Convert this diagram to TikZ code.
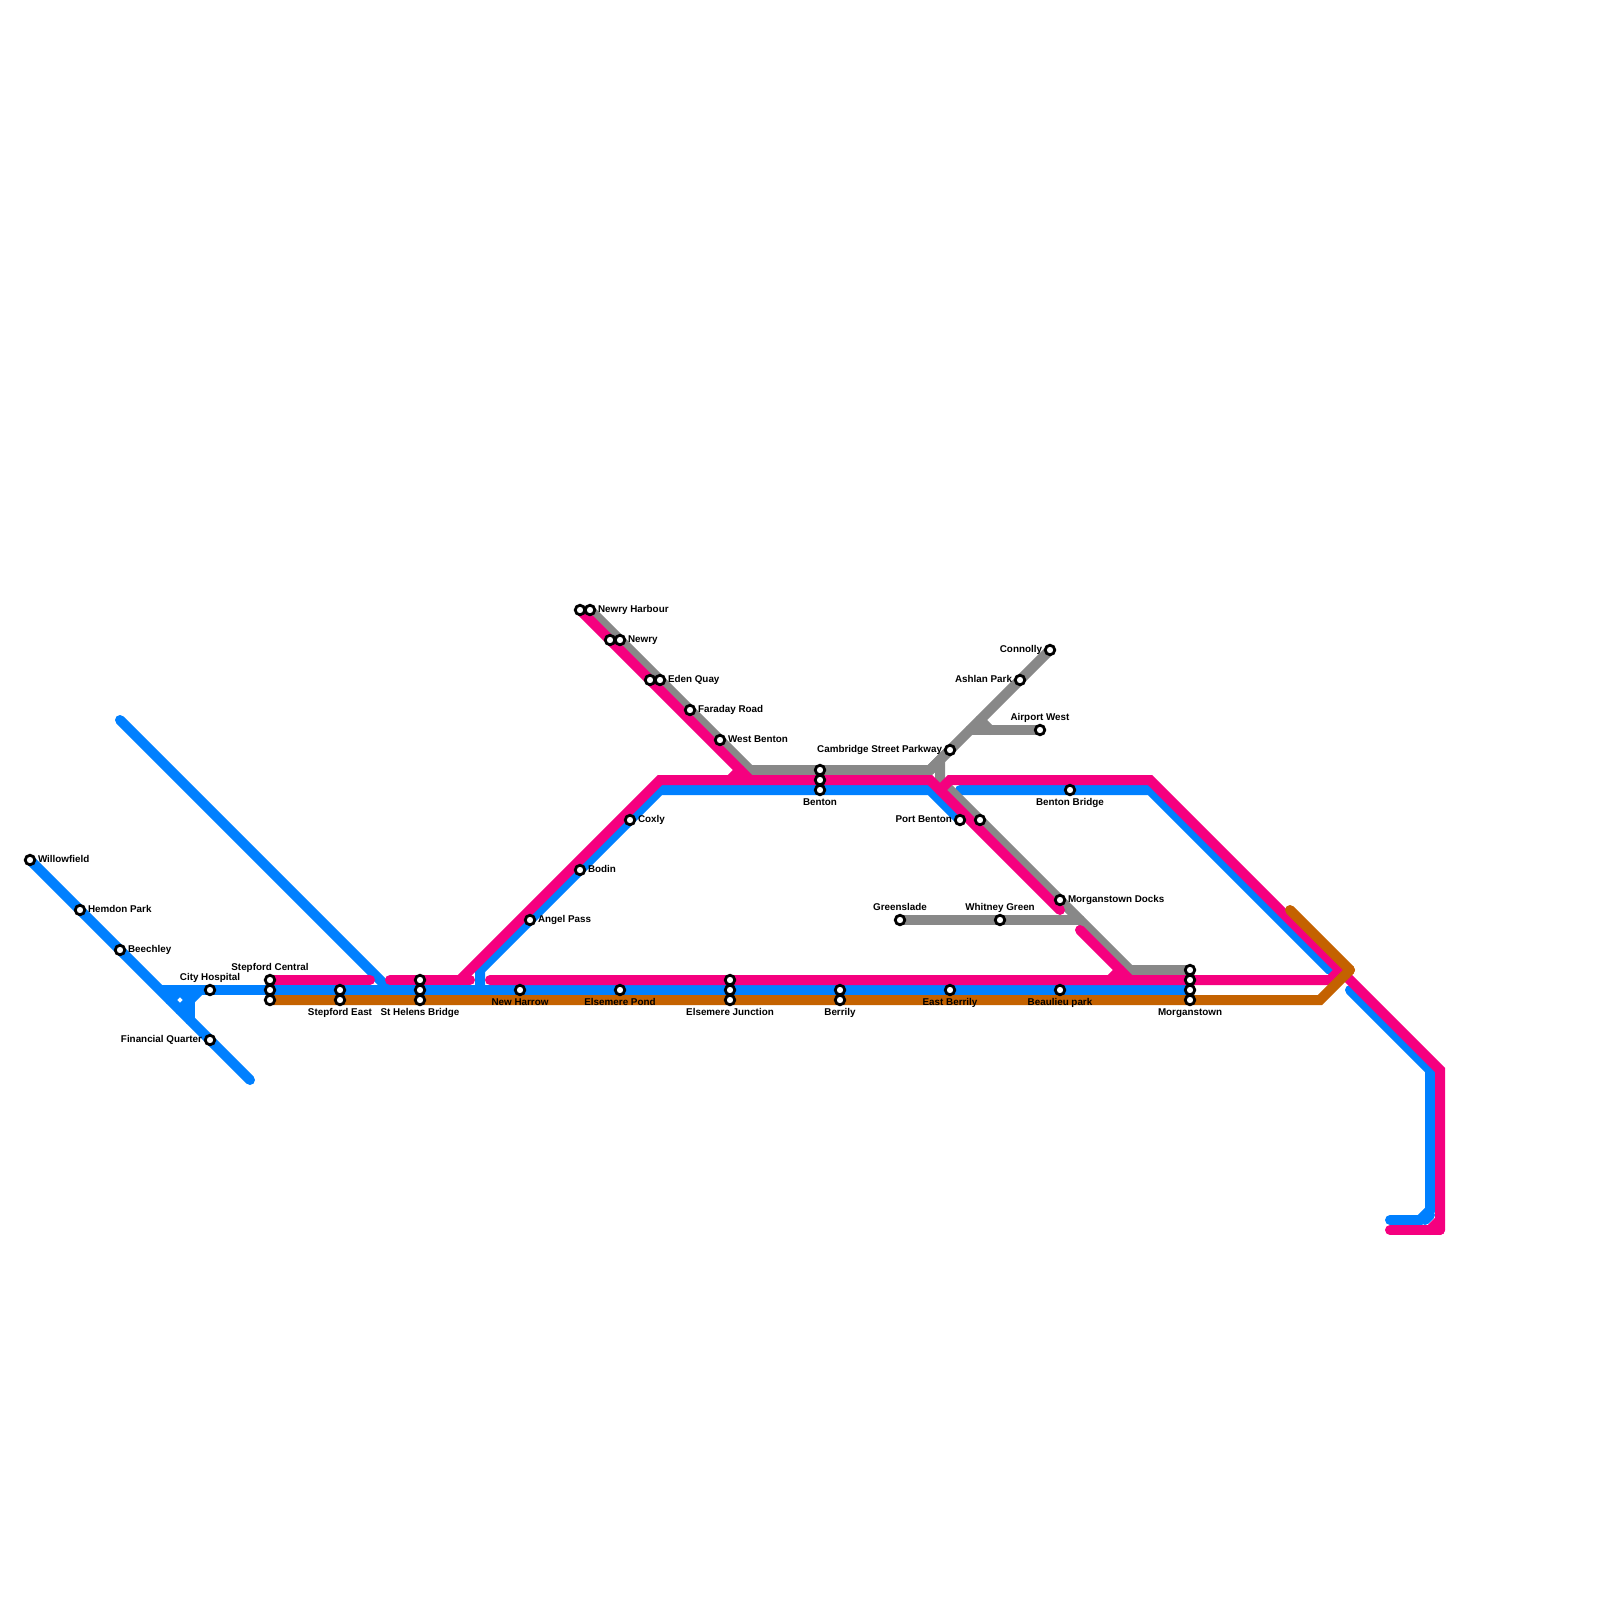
\documentclass[tikz,border=0pt]{standalone}
\usepackage{fontspec}
\setmainfont{Liberation Sans}
\usetikzlibrary{backgrounds}
\definecolor{lblue}{HTML}{0080FF}
\definecolor{lpink}{HTML}{F5007F}
\definecolor{lgrey}{HTML}{888888}
\definecolor{lorange}{HTML}{C46200}
\tikzset{
  stn/.style={circle,draw=black,fill=white,line width=2.8pt,minimum size=9.5pt,inner sep=0pt,outer sep=0pt},
  rail/.style={line width=10pt,line cap=round,line join=miter},
  blueline/.style={rail,draw=lblue},
  pinkline/.style={rail,draw=lpink},
  greyline/.style={rail,draw=lgrey},
  orangeline/.style={rail,draw=lorange},
  lbl/.style={inner sep=0pt,outer sep=0pt,text=black,font=\fontsize{9.85}{12}\selectfont\bfseries,text height=7pt,text depth=0pt},
}
\begin{document}
\begin{tikzpicture}[x=1pt,y=-1pt]
\useasboundingbox (0,0) rectangle (1600,1600);
% stations
\foreach \n/\x/\y in {wf/30/860,hp/80/910,be/120/950,ch/210/990,fq/210/1040,
 sca/270/980,scb/270/990,scc/270/1000,sea/340/990,seb/340/1000,
 sha/420/980,shb/420/990,shc/420/1000,nh/520/990,ep/620/990,
 eja/730/980,ejb/730/990,ejc/730/1000,bya/840/990,byb/840/1000,eb/950/990,bp/1060/990,
 mta/1190/970,mtb/1190/980,mtc/1190/990,mtd/1190/1000,
 ap/530/920,bo/580/870,co/630/820,
 nha/580/610,nhb/590/610,nya/610/640,nyb/620/640,eqa/650/680,eqb/660/680,fr/690/710,wb/720/740,
 bna/820/770,bnb/820/780,bnc/820/790,
 cs/950/750,as/1020/680,cn/1050/650,aw/1040/730,
 pb/960/820,pc/980/820,bb/1070/790,md/1060/900,gs/900/920,wg/1000/920}
 {\node[stn] (\n) at (\x,\y) {};}
% waypoints
\foreach \n/\x/\y in {blueend/250/1080,jn/162/990,jt/180/990,jl/170/1000,jr/190/1000,jh/200/990,jb/190/1020,jd/180/1010,jv/190/1000,
 bluetop/120/720,bluemeet/390/990,bs/480/990,bv/480/970,bc/660/790,bd/930/790,bbs/960/790,be2/1150/790,bx/1330/970,
 by/1350/990,bz/1430/1070,bw/1430/1210,bq/1420/1220,bend/1390/1220,bf1/1425/1220,bf2/1430/1215,
 pa/370/980,pb1/390/980,pb2/470/980,pd/460/980,pc1/660/780,pe/930/780,pst/490/980,pf/1330/980,pg/1340/970,
 ph/750/780,ps1/730/780,ps2/740/770,pi/1060/910,pj/1080/930,pk/1130/980,ps3/1110/980,ps4/1120/970,
 pl/940/790,pm/950/780,pn/1150/780,po/1440/1070,pp/1440/1230,pq/1390/1230,pr/1430/1230,pt/1440/1220,
 ga/750/770,gb/930/770,gc/970/730,gd/980/720,ge/990/730,gf/940/760,gg/940/780,gh/1130/970,gi/1080/920,
 oa/1290/910,ob/1350/970,oc/1320/1000}
 {\coordinate (\n) at (\x,\y);}
\begin{pgfonlayer}{background}
% blue
\draw[blueline] (wf.center)--(hp.center)--(be.center)--(fq.center)--(blueend);
\draw[blueline] (jn)--(ch.center)--(scb.center)--(sea.center)--(shb.center)--(nh.center)--(ep.center)--(ejb.center)--(bya.center)--(eb.center)--(bp.center)--(mtc.center);
\draw[blueline] (jh)--(jd);
\draw[blueline] (jv)--(jb);
\draw[blueline] (jt)--(jr);
\draw[blueline] (jt)--(jl);
\draw[blueline] (bluetop)--(bluemeet);
\draw[blueline] (bs)--(bv)--(ap.center)--(bo.center)--(co.center)--(bc)--(bnc.center)--(bd)--(pb.center);
\draw[blueline] (bbs)--(bb.center)--(be2)--(bx);
\draw[blueline] (by)--(bz)--(bw)--(bq)--(bend);
\draw[blueline] (bf1)--(bf2);
% grey
\draw[greyline] (nhb.center)--(nyb.center)--(eqb.center)--(fr.center)--(wb.center)--(ga)--(bna.center)--(gb)--(cs.center)--(as.center)--(cn.center);
\draw[greyline] (gc)--(aw.center);
\draw[greyline] (gd)--(ge);
\draw[greyline] (gb)--(gf)--(gg)--(pc.center)--(md.center)--(gh)--(mta.center);
\draw[greyline] (gs.center)--(wg.center)--(gi);
% pink
\draw[pinkline] (sca.center)--(pa);
\draw[pinkline] (pb1)--(sha.center)--(pb2);
\draw[pinkline] (pd)--(pc1)--(ph)--(bnb.center)--(pe)--(pi);
\draw[pinkline] (nha.center)--(nya.center)--(eqa.center)--(ph);
\draw[pinkline] (ps1)--(ps2);
\draw[pinkline] (pl)--(pm)--(pn)--(po)--(pp);
\draw[pinkline] (pp)--(pq);
\draw[pinkline] (pr)--(pt);
\draw[pinkline] (pst)--(eja.center)--(mtb.center)--(pf)--(pg);
\draw[pinkline] (pj)--(pk);
\draw[pinkline] (ps3)--(ps4);
% orange
\draw[orangeline] (scc.center)--(seb.center)--(shc.center)--(ejc.center)--(byb.center)--(mtd.center)--(oc)--(ob);
\draw[orangeline] (ob)--(oa);
\end{pgfonlayer}
% labels
\node[lbl,anchor=west] (l1) at (38,859) {Willowfield};
\node[lbl,anchor=west] (l2) at (88,909) {Hemdon Park};
\node[lbl,anchor=west] (l3) at (128,949) {Beechley};
\node[lbl] (l4) at (210,977) {City Hospital};
\node[lbl] (l5) at (270,967) {Stepford Central};
\node[lbl] (l6) at (340,1012) {Stepford East};
\node[lbl] (l7) at (420,1012) {St Helens Bridge};
\node[lbl,anchor=east] (l8) at (202,1039) {Financial Quarter};
\node[lbl,anchor=west] (l9) at (598,609) {Newry Harbour};
\node[lbl,anchor=west] (l10) at (628,639) {Newry};
\node[lbl,anchor=west] (l11) at (668,679) {Eden Quay};
\node[lbl,anchor=west] (l12) at (698,709) {Faraday Road};
\node[lbl,anchor=west] (l13) at (728,739) {West Benton};
\node[lbl,anchor=west] (l14) at (638,819) {Coxly};
\node[lbl,anchor=west] (l15) at (588,869) {Bodin};
\node[lbl,anchor=west] (l16) at (538,919) {Angel Pass};
\node[lbl] (l17) at (820,802) {Benton};
\node[lbl,anchor=east] (l18) at (942,749) {Cambridge Street Parkway};
\node[lbl,anchor=east] (l19) at (1012,679) {Ashlan Park};
\node[lbl,anchor=east] (l20) at (1042,649) {Connolly};
\node[lbl] (l21) at (1040,717) {Airport West};
\node[lbl,anchor=east] (l22) at (952,819) {Port Benton};
\node[lbl] (l23) at (1070,802) {Benton Bridge};
\node[lbl,anchor=west] (l24) at (1068,899) {Morganstown Docks};
\node[lbl] (l25) at (900,907) {Greenslade};
\node[lbl] (l26) at (1000,907) {Whitney Green};
\node[lbl] (l27) at (950,1002) {East Berrily};
\node[lbl] (l28) at (1060,1002) {Beaulieu park};
\node[lbl] (l29) at (1190,1012) {Morganstown};
\node[lbl] (l30) at (840,1012) {Berrily};
\node[lbl] (l31) at (730,1012) {Elsemere Junction};
\node[lbl] (l32) at (620,1002) {Elsemere Pond};
\node[lbl] (l33) at (520,1002) {New Harrow};
\end{tikzpicture}
\end{document}
